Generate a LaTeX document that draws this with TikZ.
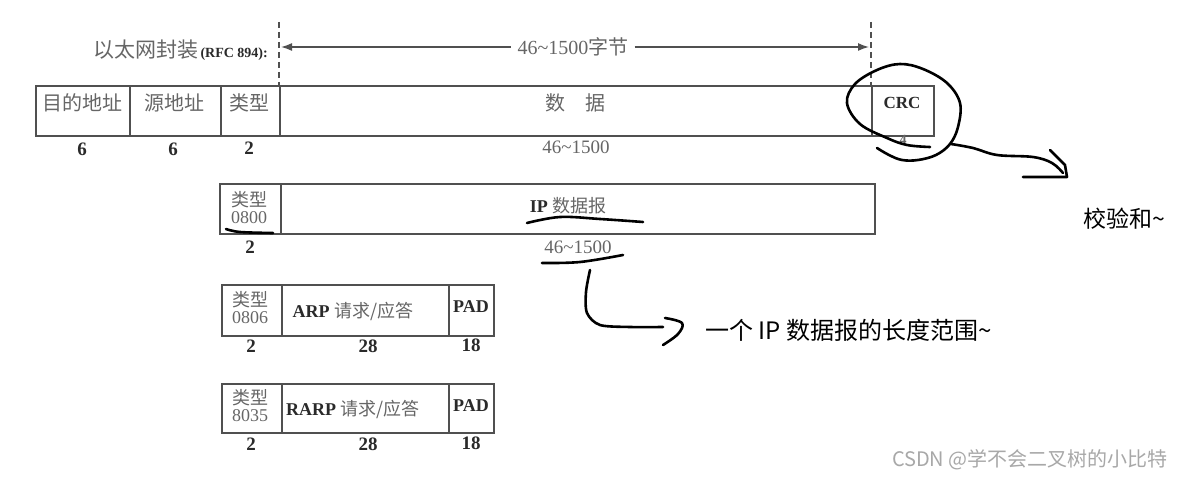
\documentclass[tikz,border=0pt]{standalone}
\usepackage{fontspec}
\setmainfont{Liberation Serif}
\newfontfamily\cjk{Noto Sans CJK SC}
\usetikzlibrary{arrows.meta}
\definecolor{boxgray}{HTML}{505050}
\definecolor{scantext}{HTML}{666666}
\definecolor{scandark}{HTML}{2A2A2A}
\definecolor{wm}{HTML}{A8A8A8}
\newcommand{\fs}[1]{\fontsize{#1}{#1}\selectfont}
\begin{document}
\begin{tikzpicture}[x=1pt,y=-1pt,
  cell/.style={draw=boxgray, line width=1.6pt, inner sep=0pt, anchor=north west, minimum height=50pt},
  scan/.style={text=scantext, inner sep=0pt, font=\fs{20}\cjk},
  num/.style={text=scandark, inner sep=0pt, font=\fs{19}\bfseries},
  rng/.style={text=scantext, inner sep=0pt, font=\fs{19}},
  typ/.style={text=scantext, inner sep=0pt, font=\fs{18}, align=center},
  hand/.style={draw=black, line width=2.6pt, line cap=round, line join=round},
  note/.style={text=black, inner sep=0pt, font=\fs{23}\cjk, anchor=west},
  dashline/.style={draw=boxgray, line width=1.3pt, dash pattern=on 6pt off 4pt},
  dimline/.style={draw=boxgray, line width=1.5pt}
]
\useasboundingbox (0,0) rectangle (1183,478);
\fill[white] (0,0) rectangle (1183,478);

% ---- row 1: Ethernet frame
\node[cell, minimum width=94pt] (dst) at (35,85) {};
\node[cell, minimum width=91pt] (src) at (129,85) {};
\node[cell, minimum width=59pt] (typ1) at (220,85) {};
\node[cell, minimum width=592pt] (dat) at (279,85) {};
\node[cell, minimum width=62pt] (crc) at (871,85) {};

\node[scan] (dstT) at (82,103) {目的地址};
\node[scan] (srcT) at (174,103) {源地址};
\node[scan] (typT) at (249,103) {类型};
\node[scan] (datT) at (575,103) {数\hspace{1em}据};
\node[inner sep=0pt, text=scandark, font=\fs{17}\bfseries] (crcT) at (902,103) {CRC};

\node[num] (l6a) at (82,149) {6};
\node[num] (l6b) at (173,149) {6};
\node[num] (l2a) at (249,148) {2};
\node[rng] (l46a) at (576,147) {46\textasciitilde1500};
\node[inner sep=0pt, text=scantext, font=\fs{14}\bfseries] (l4) at (903,140) {4};

% ---- header: encapsulation + length arrow
\node[inner sep=0pt, text=scantext, anchor=east] (enc) at (268,50)
  {{\fs{21}\cjk 以太网封装}\,{\fs{14}\bfseries\color{scandark}(RFC 894):}};
\node[rng, font=\fs{20}] (lenT) at (573,47) {46\textasciitilde1500{\cjk 字节}};
\coordinate (dL) at (279,22);
\coordinate (dR) at (871,22);
\coordinate (aL) at (281,47);
\coordinate (aR) at (869,47);
\draw[dashline] (dL) -- (dat.north west);
\draw[dashline] (dR) -- (crc.north west);
\draw[dimline, {Latex[length=11pt,width=8pt]}-] (aL) -- ([xshift=-6pt]lenT.west);
\draw[dimline, -{Latex[length=11pt,width=8pt]}] ([xshift=6pt]lenT.east) -- (aR);

% ---- row 2: IP datagram
\node[cell, minimum width=61pt] (t2) at (219,183) {};
\node[cell, minimum width=594pt] (ip) at (280,183) {};
\node[typ] (t2T) at (249,208) {{\cjk 类型}\\[-1pt]0800};
\node[inner sep=0pt, text=scantext, font=\fs{18}] (ipT) at (568,206) {{\bfseries\color{scandark}IP} {\cjk 数据报}};
\node[num] (l2b) at (250,247) {2};
\node[rng] (l46b) at (578,247) {46\textasciitilde1500};

% ---- row 3: ARP
\node[cell, minimum width=60pt, minimum height=51pt] (t3) at (221,284) {};
\node[cell, minimum width=167pt, minimum height=51pt] (arp) at (281,284) {};
\node[cell, minimum width=45pt, minimum height=51pt] (pad3) at (448,284) {};
\node[typ] (t3T) at (250,308) {{\cjk 类型}\\[-1pt]0806};
\node[inner sep=0pt, text=scantext, font=\fs{18}] (arpT) at (353,311) {{\bfseries\color{scandark}ARP} {\cjk 请求/应答}};
\node[inner sep=0pt, text=scandark, font=\fs{18}\bfseries] (pad3T) at (471,307) {PAD};
\node[num] (l2c) at (251,346) {2};
\node[num] (l28c) at (368,346) {28};
\node[num] (l18c) at (471,345) {18};

% ---- row 4: RARP
\node[cell, minimum width=60pt, minimum height=49pt] (t4) at (221,383) {};
\node[cell, minimum width=167pt, minimum height=49pt] (rarp) at (281,383) {};
\node[cell, minimum width=45pt, minimum height=49pt] (pad4) at (448,383) {};
\node[typ] (t4T) at (250,406) {{\cjk 类型}\\[-1pt]8035};
\node[inner sep=0pt, text=scantext, font=\fs{18}] (rarpT) at (353,409) {{\bfseries\color{scandark}RARP} {\cjk 请求/应答}};
\node[inner sep=0pt, text=scandark, font=\fs{18}\bfseries] (pad4T) at (471,406) {PAD};
\node[num] (l2d) at (251,444) {2};
\node[num] (l28d) at (368,444) {28};
\node[num] (l18d) at (471,443) {18};

% ---- hand-drawn annotations
\node[note] (crcNote) at (1083,219) {校验和\textasciitilde};
\node[note, font=\fs{24}\cjk] (ipNote) at (705,330) {一个 IP 数据报的长度范围\textasciitilde};
\node[inner sep=0pt, text=wm, font=\fs{20}\cjk, anchor=east] (wmT) at (1168,460) {CSDN @学不会二叉树的小比特};

% circle round CRC
\draw[hand] plot[smooth, tension=0.6] coordinates {(930,147) (907,145) (887,138) (860,124) (847,103) (855,84) (877,70) (900,64) (923,69) (947,83) (960,103) (958,127) (950,144) (936,155) (918,160) (902,160) (889,155) (877,148)};
% tail to the right with arrow head
\draw[hand] plot[smooth, tension=0.6] coordinates {(951,144) (973,148) (997,155) (1033,157) (1052,163) (1063,173)};
\draw[hand] (1050,150) -- (1065,165) -- (1067,177) -- (1023,177);

% underlines
\draw[hand] plot[smooth, tension=0.6] coordinates {(226,229) (240,232) (273,233)};
\draw[hand] plot[smooth, tension=0.6] coordinates {(527,223) (560,217) (600,219) (643,222)};
\draw[hand] plot[smooth, tension=0.6] coordinates {(542,263) (580,262) (623,255)};
% bent arrow to the length note
\draw[hand] plot[smooth, tension=0.5] coordinates {(590,270) (586,292) (587,313) (600,325) (630,327) (663,327)};
\draw[hand] plot[smooth, tension=0.6] coordinates {(665,318) (682,323) (678,334) (663,345)};
\end{tikzpicture}
\end{document}
